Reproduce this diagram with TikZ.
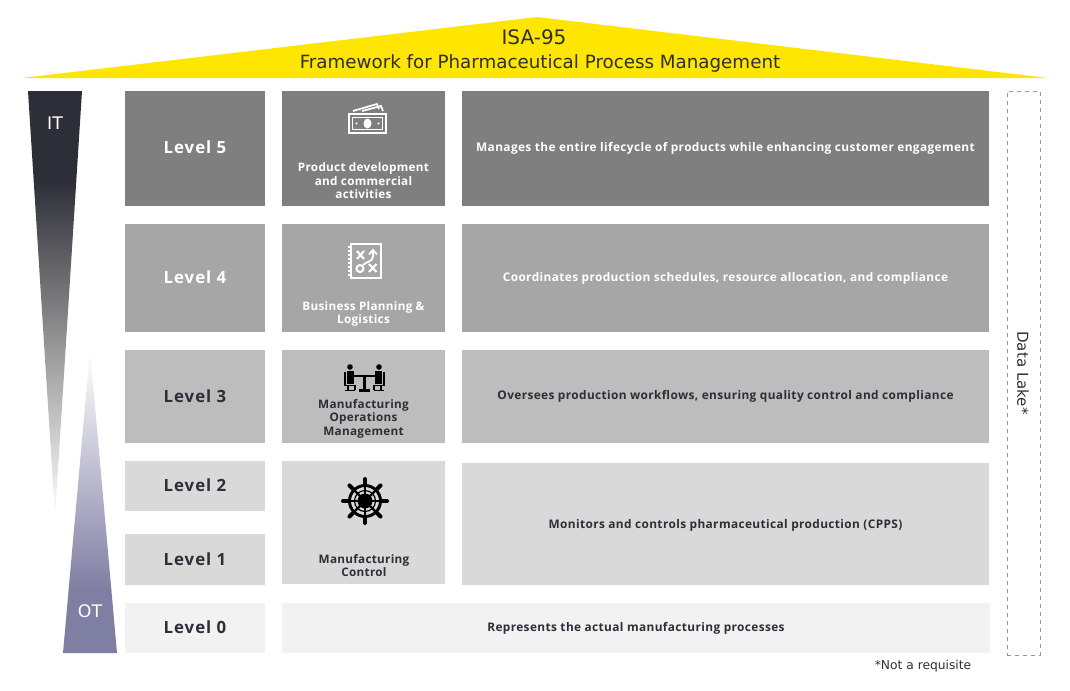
\documentclass[tikz,border=0pt]{standalone}
\usepackage{fontspec}
\setmainfont{Open Sans}
\newfontfamily\lab[LetterSpace=6,BoldFont={Open Sans Bold}]{Open Sans}
\newfontfamily\dsc[LetterSpace=2.4,BoldFont={Open Sans Bold}]{Open Sans}
\newfontfamily\dsw[LetterSpace=3.2,BoldFont={Open Sans Bold}]{Open Sans}
\newfontfamily\dv{DejaVu Sans}
\definecolor{eyyellow}{HTML}{FFE600}
\definecolor{eydark}{HTML}{2E2E38}
\definecolor{lvA}{HTML}{7F7F7F}
\definecolor{lvB}{HTML}{A6A6A6}
\definecolor{lvC}{HTML}{BDBDBD}
\definecolor{lvD}{HTML}{D9D9D9}
\definecolor{lvE}{HTML}{F2F2F2}
\definecolor{otblue}{HTML}{7F7EA3}
\tikzset{
  cell/.style={anchor=north west,inner sep=0pt,outer sep=0pt,align=center},
  wtext/.style={text=white},
  dtext/.style={text=eydark},
  levelfont/.style={font=\lab\fontsize{12.6}{15}\selectfont\bfseries},
  descfont/.style={font=\dsw\fontsize{8.9}{13}\selectfont\bfseries},
  capfont/.style={font=\dsc\fontsize{8.8}{10.1}\selectfont\bfseries,align=center,inner sep=0pt},
}
\newcommand{\cellbox}[8]{\node[cell,fill=#6,#8,minimum width={(#4-#2)*0.75pt},minimum height={(#5-#3)*0.75pt}] (#1) at (#2,#3) {#7};}
\begin{document}
\begin{tikzpicture}[x=0.75pt,y=-0.75pt]
\useasboundingbox (0,0) rectangle (1070,690);
% roof
\fill[eyyellow] (22,78) -- (537,17) -- (1048,78) -- cycle;
\node[font=\dv\fontsize{15}{18}\selectfont,text=eydark] (isa) at (534,37) {ISA-95};
\node[font=\dv\fontsize{13.7}{18}\selectfont,text=eydark] (fw) at (540,63) {Framework for Pharmaceutical Process Management};
% IT wedge
\begin{scope}
\clip (28,91) -- (82,91) -- (55,516) -- cycle;
\fill[eydark] (20,90) rectangle (90,180);
\shade[top color=eydark,bottom color=gray!85] (20,180) rectangle (90,340);
\shade[top color=gray!85,bottom color=white] (20,340) rectangle (90,517);
\end{scope}
% OT wedge
\begin{scope}
\clip (90,350) -- (117,653) -- (63,653) -- cycle;
\shade[top color=white,bottom color=otblue] (55,350) rectangle (125,590);
\fill[otblue] (55,589.5) rectangle (125,654);
\end{scope}
\node[font=\dv\fontsize{13}{15}\selectfont,text=white] (it) at (55,123) {IT};
\node[font=\dv\fontsize{13}{15}\selectfont,text=white] (ot) at (90,611) {OT};
% level column
\cellbox{L5}{125}{91}{265}{206}{lvA}{\raisebox{1.5pt}{Level 5}}{levelfont,wtext}
\cellbox{L4}{125}{224}{265}{332}{lvB}{\raisebox{0.75pt}{Level 4}}{levelfont,wtext}
\cellbox{L3}{125}{350}{265}{443}{lvC}{\raisebox{0.75pt}{Level 3}}{levelfont,dtext}
\cellbox{L2}{125}{461}{265}{511}{lvD}{\raisebox{0.75pt}{Level 2}}{levelfont,dtext}
\cellbox{L1}{125}{534}{265}{585}{lvD}{Level 1}{levelfont,dtext}
\cellbox{L0}{125}{603}{265}{653}{lvE}{\raisebox{0.75pt}{Level 0}}{levelfont,dtext}
% function column
\cellbox{F5}{282}{91}{445}{206}{lvA}{}{}
\cellbox{F4}{282}{224}{445}{332}{lvB}{}{}
\cellbox{F3}{282}{350}{445}{443}{lvC}{}{}
\cellbox{F2}{282}{461}{445}{584}{lvD}{}{}
\node[capfont,wtext] (c5) at (363.5,181) {Product development\\and commercial\\activities};
\node[capfont,wtext] (c4) at (363.5,314) {Business Planning \&\\Logistics};
\node[capfont,dtext] (c3) at (363.5,418.5) {Manufacturing\\Operations\\Management};
\node[capfont,dtext] (c2) at (364,565.5) {Manufacturing\\Control};
% description column
\cellbox{D5}{462}{91}{989}{206}{lvA}{Manages the entire lifecycle of products while enhancing customer engagement}{descfont,wtext}
\cellbox{D4}{462}{224}{989}{332}{lvB}{Coordinates production schedules, resource allocation, and compliance}{descfont,wtext}
\cellbox{D3}{462}{350}{989}{443}{lvC}{Oversees production workflows, ensuring quality control and compliance}{descfont,dtext}
\cellbox{D2}{462}{463}{989}{585}{lvD}{\raisebox{-3.2pt}[0pt][0pt]{Monitors and controls pharmaceutical production (CPPS)}}{descfont,dtext}
\cellbox{D0}{282}{603}{990}{653}{lvE}{Represents the actual manufacturing processes}{descfont,dtext}
% data lake
\node[cell,draw=gray!80,dashed,line width=0.6pt,minimum width={33*0.75pt},minimum height={564*0.75pt}] (lake) at (1007,91) {};
\node[font=\dv\fontsize{11.3}{14}\selectfont,text=eydark,rotate=-90] (lakelabel) at (1023,373) {Data Lake*};
\node[font=\dv\fontsize{9.2}{12}\selectfont,text=eydark] (req) at (923,666) {*Not a requisite};
% money icon
\begin{scope}[white,line width=1.6pt]
\draw (349,114) rectangle (386,133);
\draw[line width=0.9pt] (352.5,117.5) rectangle (382.5,129.5);
\fill (367.5,123.5) ellipse (4 and 5);
\fill (356.5,123.5) circle (1.2); \fill (378.5,123.5) circle (1.2);
\draw[line width=1.3pt] (353,111) -- (377,104) -- (379,109);
\draw[line width=1.3pt] (362,111) -- (381,106) -- (383,111);
\end{scope}
% notebook icon
\begin{scope}[white]
\draw[line width=1.8pt] (351,244) rectangle (381,278);
\foreach \yy in {247,251,...,275} {\draw[line width=1.1pt] (347.5,\yy) -- (351,\yy);}
\draw[line width=1.6pt] (357,251) -- (364,259) (364,251) -- (357,259);
\draw[line width=1.6pt] (369,272) -- (376.5,264) (369,264) -- (376.5,272);
\draw[line width=1.5pt] (360,268.5) circle (3.5);
\draw[line width=1.4pt] (363,265) .. controls (367,261) and (373,262) .. (373,256) -- (373,251);
\draw[line width=1.4pt] (369,254.5) -- (373,250) -- (377,254.5);
\end{scope}
% meeting icon
\begin{scope}[black]
\fill (350,367) circle (2.8); \fill (379,367) circle (2.8);
\fill (347,371) rectangle (354,384);
\fill (375,371) rectangle (382,384);
\draw[line width=1.3pt] (354,376) -- (375,376);
\draw[line width=1.8pt] (364.5,376) -- (364.5,390) (359,390.5) -- (370,390.5);
\draw[line width=1.4pt] (345,372) -- (345,385.5) -- (355,385.5) -- (355,390);
\draw[line width=1.4pt] (384,372) -- (384,385.5) -- (374,385.5) -- (374,390);
\draw[line width=1.4pt] (345,390.5) -- (355,390.5) (374,390.5) -- (384,390.5);
\draw[line width=1.1pt] (348,385) -- (348,390) (381,385) -- (381,390);
\end{scope}
% helm icon
\begin{scope}[black,shift={(365,501)}]
\fill (0,0) circle (7.5);
\draw[line width=2.2pt] (0,0) circle (15.5);
\draw[line width=0.9pt] (0,0) circle (10.5);
\foreach \aa in {0,45,...,315} {
  \draw[line width=1.7pt] (\aa:6) -- (\aa:17);
  \draw[line width=3pt,line cap=round] (\aa:17) -- (\aa:22);
}
\end{scope}
\end{tikzpicture}
\end{document}
